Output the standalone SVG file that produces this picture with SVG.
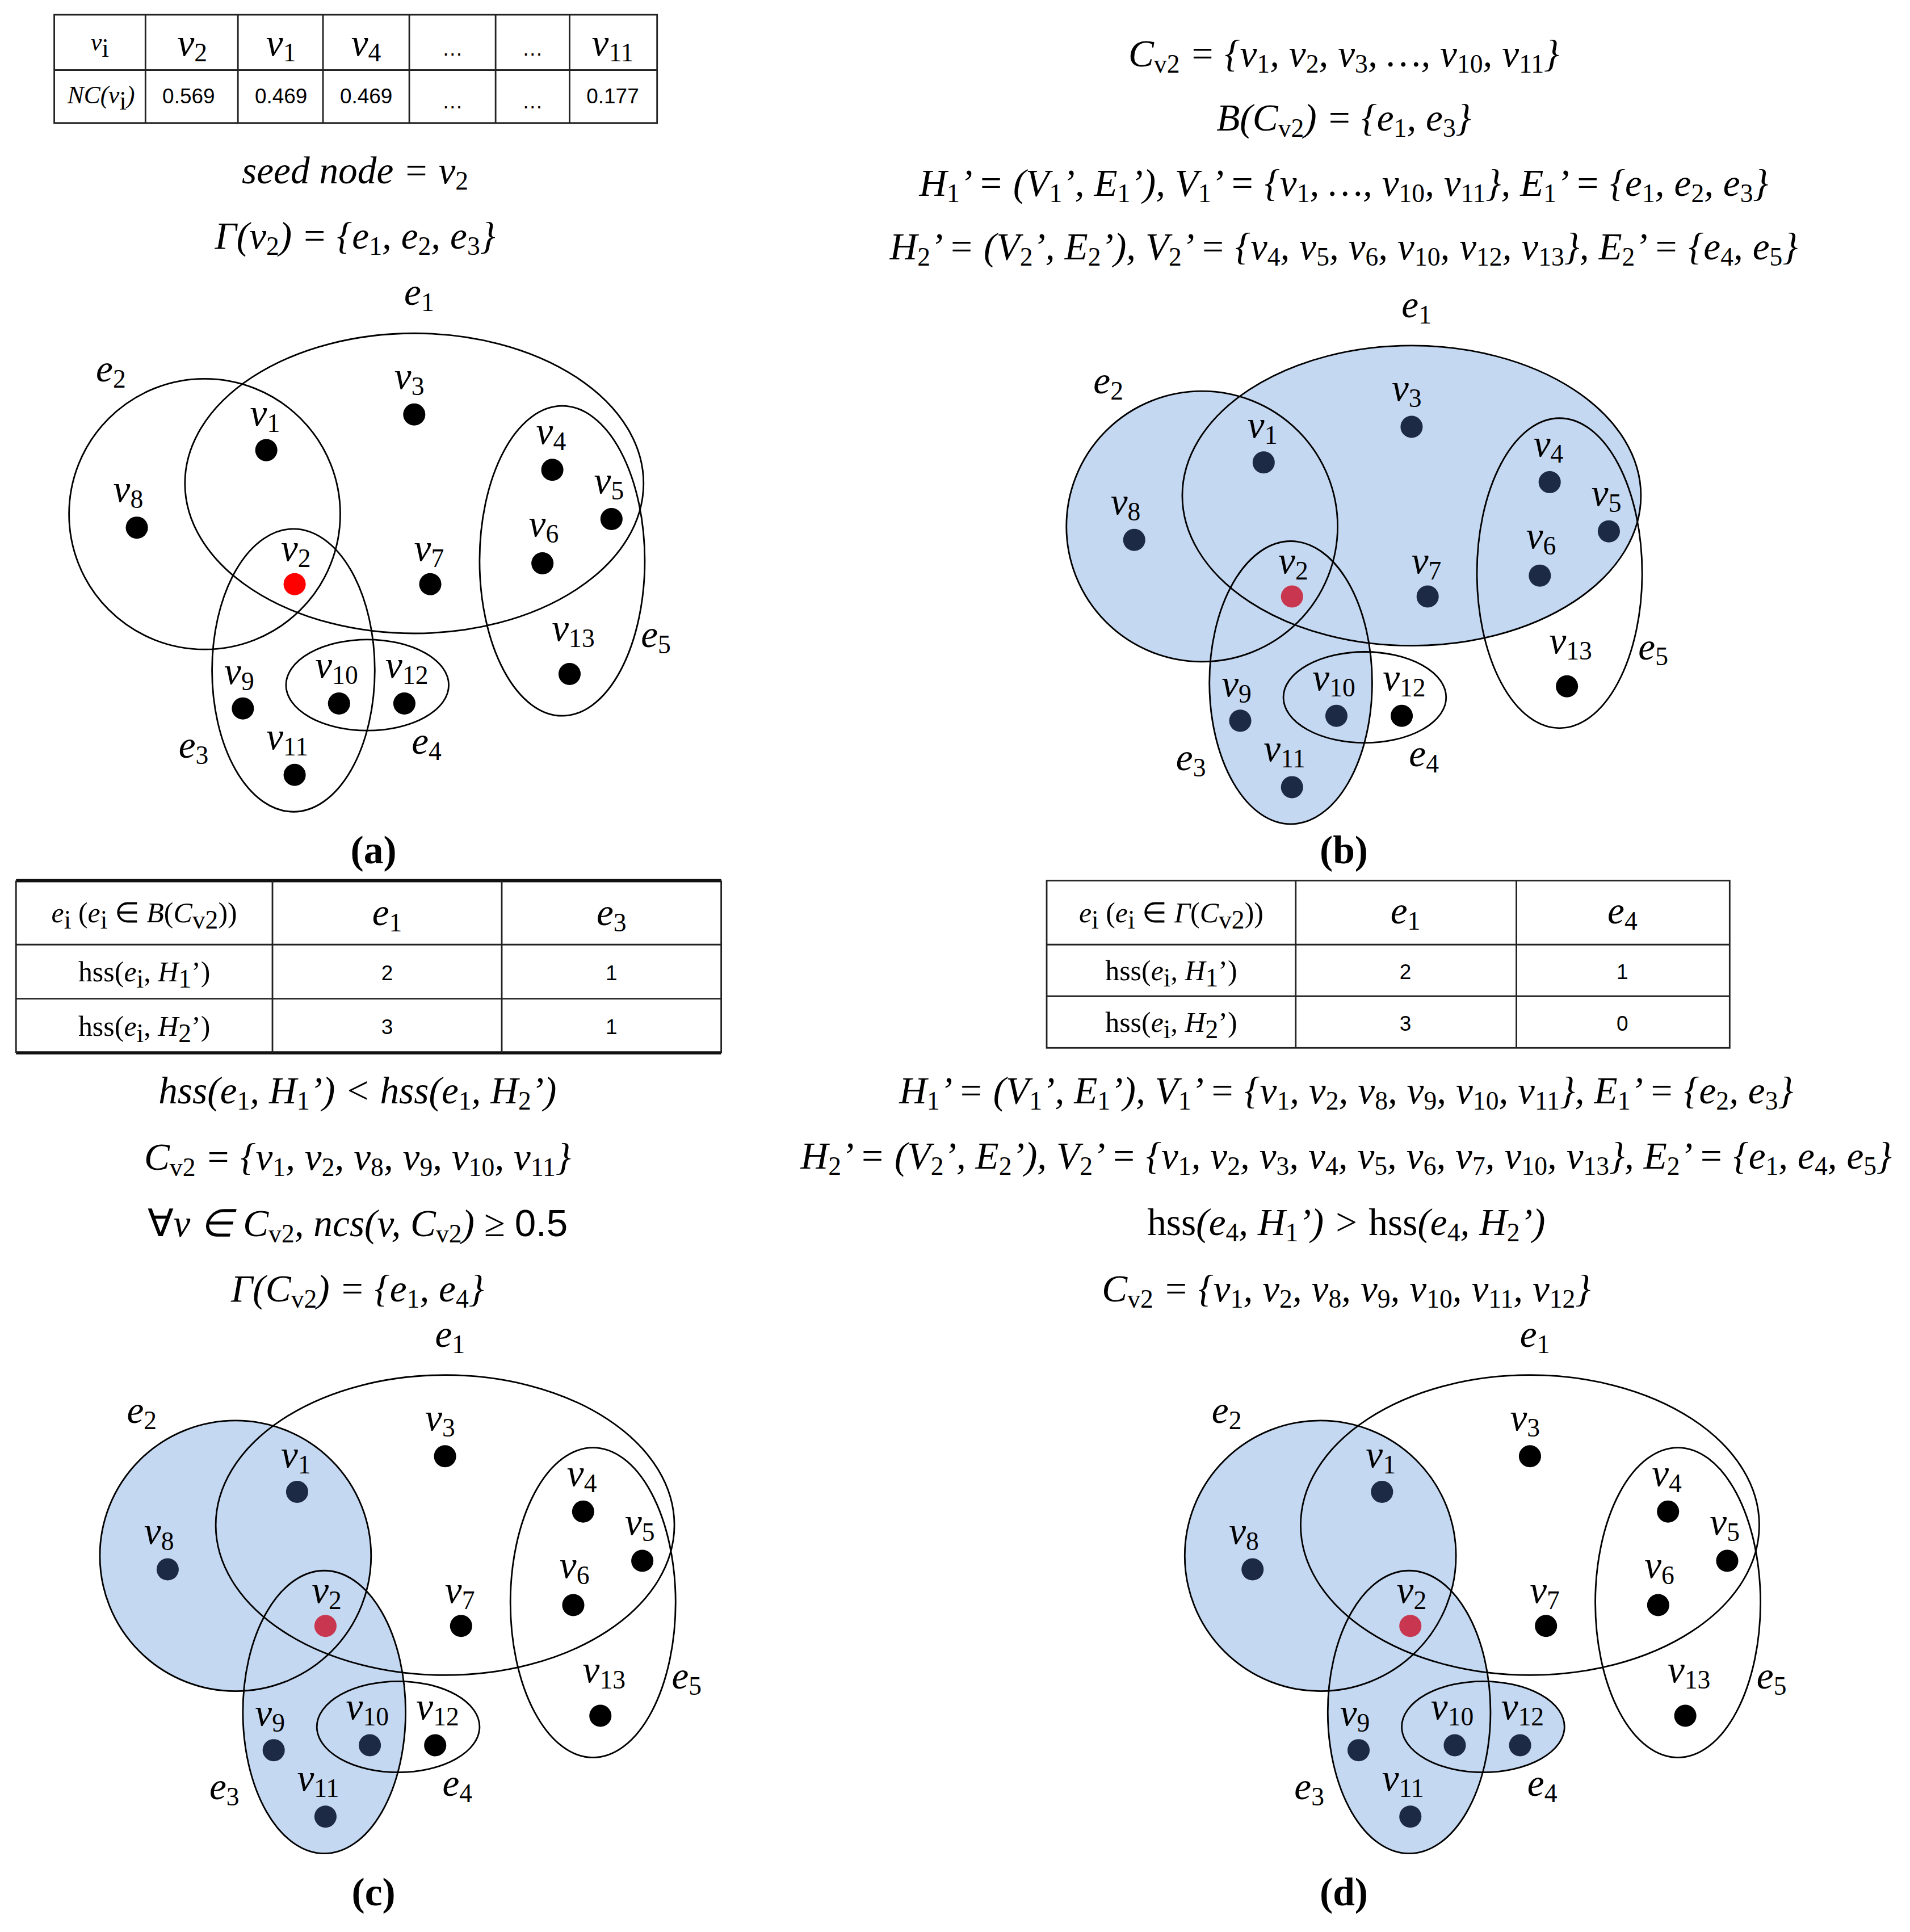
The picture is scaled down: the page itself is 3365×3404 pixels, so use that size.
<svg xmlns="http://www.w3.org/2000/svg" width="3365" height="3404" viewBox="0 0 3365 3404">
<style>
.ed{fill:none;stroke:#000;stroke-width:1.3}
.fl{fill:#c5d8f1;stroke:none}
.n{fill:#000}
.nb{fill:#1d2a45}
.r{fill:#f00}
.rb{fill:#c9364f}
.m{font-family:"Liberation Serif",serif;font-style:italic;font-size:31px;fill:#000;text-anchor:middle}
.lb{font-family:"Liberation Serif",serif;font-style:italic;font-size:31px;fill:#000;text-anchor:middle}
.s{font-size:21px;font-style:normal;baseline-shift:-5px}
.cap{font-family:"Liberation Serif",serif;font-weight:bold;font-size:32px;text-anchor:middle}
.tl{fill:none;stroke:#222;stroke-width:1.3}
.tk{fill:none;stroke:#111;stroke-width:2.6}
.sm{font-family:"Liberation Serif",serif;font-style:italic;font-size:20px;text-anchor:middle}
.num{font-family:"Liberation Sans",sans-serif;font-size:17px;text-anchor:middle}
.tt{font-family:"Liberation Serif",serif;font-size:23px;text-anchor:middle}
.up{font-style:normal}
</style>
<defs>
<g id="labels">
<text class="lb" x="215" y="346">v<tspan class="s">1</tspan></text>
<text class="lb" x="332" y="316">v<tspan class="s">3</tspan></text>
<text class="lb" x="104" y="408">v<tspan class="s">8</tspan></text>
<text class="lb" x="240" y="456">v<tspan class="s">2</tspan></text>
<text class="lb" x="348" y="456">v<tspan class="s">7</tspan></text>
<text class="lb" x="447" y="361">v<tspan class="s">4</tspan></text>
<text class="lb" x="494" y="401">v<tspan class="s">5</tspan></text>
<text class="lb" x="441" y="436">v<tspan class="s">6</tspan></text>
<text class="lb" x="465" y="521">v<tspan class="s">13</tspan></text>
<text class="lb" x="194" y="556">v<tspan class="s">9</tspan></text>
<text class="lb" x="273" y="551">v<tspan class="s">10</tspan></text>
<text class="lb" x="330" y="551">v<tspan class="s">12</tspan></text>
<text class="lb" x="233" y="609">v<tspan class="s">11</tspan></text>
<text class="lb" x="340" y="248">e<tspan class="s">1</tspan></text>
<text class="lb" x="90" y="310">e<tspan class="s">2</tspan></text>
<text class="lb" x="157" y="616">e<tspan class="s">3</tspan></text>
<text class="lb" x="346" y="613">e<tspan class="s">4</tspan></text>
<text class="lb" x="532" y="526">e<tspan class="s">5</tspan></text>
</g>
<g id="outlines">
<ellipse class="ed" cx="336" cy="393" rx="186" ry="122"/>
<circle class="ed" cx="166" cy="418" r="110"/>
<ellipse class="ed" cx="238" cy="545" rx="66" ry="115"/>
<ellipse class="ed" cx="298" cy="557" rx="66" ry="37"/>
<ellipse class="ed" cx="456" cy="456" rx="67" ry="126"/>
</g>
</defs>
<rect width="3365" height="3404" fill="#fff"/>
<g transform="scale(2.172,2.167)">
<g id="connectors"></g>

<!-- Panel a -->
<g id="table-a">
<rect class="tl" x="44" y="12" width="489" height="88"/>
<line class="tl" x1="44" y1="57" x2="533" y2="57"/>
<line class="tl" x1="118" y1="12" x2="118" y2="100"/>
<line class="tl" x1="193" y1="12" x2="193" y2="100"/>
<line class="tl" x1="262" y1="12" x2="262" y2="100"/>
<line class="tl" x1="332" y1="12" x2="332" y2="100"/>
<line class="tl" x1="402" y1="12" x2="402" y2="100"/>
<line class="tl" x1="462" y1="12" x2="462" y2="100"/>
<text class="sm" x="81" y="41">v<tspan class="s" font-size="13">i</tspan></text>
<text class="lb" x="156" y="45">v<tspan class="s">2</tspan></text>
<text class="lb" x="228" y="45">v<tspan class="s">1</tspan></text>
<text class="lb" x="297" y="45">v<tspan class="s">4</tspan></text>
<text class="num" x="367" y="45">…</text>
<text class="num" x="432" y="45">…</text>
<text class="lb" x="497" y="45">v<tspan class="s">11</tspan></text>
<text class="sm" x="82" y="84">NC(v<tspan class="s" font-size="13">i</tspan>)</text>
<text class="num" x="153" y="84">0.569</text>
<text class="num" x="228" y="84">0.469</text>
<text class="num" x="297" y="84">0.469</text>
<text class="num" x="367" y="88">…</text>
<text class="num" x="432" y="88">…</text>
<text class="num" x="497" y="84">0.177</text>
</g>
<text class="m" x="288" y="149">seed node = v<tspan class="s">2</tspan></text>
<text class="m" x="288" y="202">Γ(v<tspan class="s">2</tspan>) = {e<tspan class="s">1</tspan>, e<tspan class="s">2</tspan>, e<tspan class="s">3</tspan>}</text>
<g id="graph-a">
<use href="#outlines"/>
<g id="a-nodes">
<circle class="n" cx="216" cy="366" r="9"/><circle class="n" cx="336" cy="337" r="9"/>
<circle class="n" cx="111" cy="429" r="9"/><circle class="r" cx="239" cy="475" r="9"/>
<circle class="n" cx="349" cy="475" r="9"/><circle class="n" cx="448" cy="382" r="9"/>
<circle class="n" cx="496" cy="422" r="9"/><circle class="n" cx="440" cy="458" r="9"/>
<circle class="n" cx="462" cy="548" r="9"/><circle class="n" cx="197" cy="576" r="9"/>
<circle class="n" cx="275" cy="572" r="9"/><circle class="n" cx="328" cy="572" r="9"/>
<circle class="n" cx="239" cy="630" r="9"/>
</g>
<use href="#labels"/>
</g>
<text class="cap" x="303" y="702">(a)</text>

<!-- Panel b -->
<text class="m" x="1090" y="54">C<tspan class="s">v2</tspan> = {v<tspan class="s">1</tspan>, v<tspan class="s">2</tspan>, v<tspan class="s">3</tspan>, …, v<tspan class="s">10</tspan>, v<tspan class="s">11</tspan>}</text>
<text class="m" x="1090" y="106">B(C<tspan class="s">v2</tspan>) = {e<tspan class="s">1</tspan>, e<tspan class="s">3</tspan>}</text>
<text class="m" x="1090" y="159">H<tspan class="s">1</tspan>’ = (V<tspan class="s">1</tspan>’, E<tspan class="s">1</tspan>’),  V<tspan class="s">1</tspan>’ = {v<tspan class="s">1</tspan>, …, v<tspan class="s">10</tspan>, v<tspan class="s">11</tspan>},  E<tspan class="s">1</tspan>’ = {e<tspan class="s">1</tspan>, e<tspan class="s">2</tspan>, e<tspan class="s">3</tspan>}</text>
<text class="m" x="1090" y="211">H<tspan class="s">2</tspan>’ = (V<tspan class="s">2</tspan>’, E<tspan class="s">2</tspan>’),  V<tspan class="s">2</tspan>’ = {v<tspan class="s">4</tspan>, v<tspan class="s">5</tspan>, v<tspan class="s">6</tspan>, v<tspan class="s">10</tspan>, v<tspan class="s">12</tspan>, v<tspan class="s">13</tspan>},  E<tspan class="s">2</tspan>’ = {e<tspan class="s">4</tspan>, e<tspan class="s">5</tspan>}</text>
<g id="graph-b" transform="translate(809,10)">
<ellipse class="fl" cx="336" cy="393" rx="186" ry="122"/>
<circle class="fl" cx="166" cy="418" r="110"/>
<ellipse class="fl" cx="238" cy="545" rx="66" ry="115"/>
<use href="#outlines"/>
<g id="b-nodes">
<circle class="nb" cx="216" cy="366" r="9"/><circle class="nb" cx="336" cy="337" r="9"/>
<circle class="nb" cx="111" cy="429" r="9"/><circle class="rb" cx="239" cy="475" r="9"/>
<circle class="nb" cx="349" cy="475" r="9"/><circle class="nb" cx="448" cy="382" r="9"/>
<circle class="nb" cx="496" cy="422" r="9"/><circle class="nb" cx="440" cy="458" r="9"/>
<circle class="n" cx="462" cy="548" r="9"/><circle class="nb" cx="197" cy="576" r="9"/>
<circle class="nb" cx="275" cy="572" r="9"/><circle class="n" cx="328" cy="572" r="9"/>
<circle class="nb" cx="239" cy="630" r="9"/>
</g>
<use href="#labels"/>
</g>
<text class="cap" x="1090" y="702">(b)</text>

<!-- Panel c -->
<g id="table-c">
<line class="tk" x1="13" y1="716" x2="585" y2="716"/>
<line class="tk" x1="13" y1="856" x2="585" y2="856"/>
<line class="tl" x1="13" y1="768" x2="585" y2="768"/>
<line class="tl" x1="13" y1="812" x2="585" y2="812"/>
<line class="tl" x1="13" y1="716" x2="13" y2="856"/>
<line class="tl" x1="221" y1="716" x2="221" y2="856"/>
<line class="tl" x1="407" y1="716" x2="407" y2="856"/>
<line class="tl" x1="585" y1="716" x2="585" y2="856"/>
<text class="tt" x="117" y="750"><tspan font-style="italic">e</tspan><tspan class="s" font-size="15">i</tspan>  (<tspan font-style="italic">e<tspan class="s" font-size="15">i</tspan></tspan> ∈ <tspan font-style="italic">B</tspan>(<tspan font-style="italic">C</tspan><tspan class="s" font-size="15" font-style="italic">v2</tspan>))</text>
<text class="lb" x="314" y="752">e<tspan class="s">1</tspan></text>
<text class="lb" x="496" y="752">e<tspan class="s">3</tspan></text>
<text class="tt" x="117" y="798">hss(<tspan font-style="italic">e<tspan class="s" font-size="15">i</tspan></tspan>, <tspan font-style="italic">H</tspan><tspan class="s" font-size="15">1</tspan>’)</text>
<text class="tt" x="117" y="842">hss(<tspan font-style="italic">e<tspan class="s" font-size="15">i</tspan></tspan>, <tspan font-style="italic">H</tspan><tspan class="s" font-size="15">2</tspan>’)</text>
<text class="num" x="314" y="797">2</text><text class="num" x="496" y="797">1</text>
<text class="num" x="314" y="841">3</text><text class="num" x="496" y="841">1</text>
</g>
<text class="m" x="290" y="897">hss(e<tspan class="s">1</tspan>, H<tspan class="s">1</tspan>’) &lt; hss(e<tspan class="s">1</tspan>, H<tspan class="s">2</tspan>’)</text>
<text class="m" x="290" y="951">C<tspan class="s">v2</tspan> = {v<tspan class="s">1</tspan>, v<tspan class="s">2</tspan>, v<tspan class="s">8</tspan>, v<tspan class="s">9</tspan>, v<tspan class="s">10</tspan>, v<tspan class="s">11</tspan>}</text>
<text class="m" x="290" y="1005"><tspan class="up">∀</tspan>v ∈ C<tspan class="s">v2</tspan>, ncs(v, C<tspan class="s">v2</tspan>) ≥ <tspan class="up" font-family="Liberation Sans">0.5</tspan></text>
<text class="m" x="290" y="1058">Γ(C<tspan class="s">v2</tspan>) = {e<tspan class="s">1</tspan>, e<tspan class="s">4</tspan>}</text>
<g id="graph-c" transform="translate(25,847)">
<circle class="fl" cx="166" cy="418" r="110"/>
<ellipse class="fl" cx="238" cy="545" rx="66" ry="115"/>
<use href="#outlines"/>
<g id="c-nodes">
<circle class="nb" cx="216" cy="366" r="9"/><circle class="n" cx="336" cy="337" r="9"/>
<circle class="nb" cx="111" cy="429" r="9"/><circle class="rb" cx="239" cy="475" r="9"/>
<circle class="n" cx="349" cy="475" r="9"/><circle class="n" cx="448" cy="382" r="9"/>
<circle class="n" cx="496" cy="422" r="9"/><circle class="n" cx="440" cy="458" r="9"/>
<circle class="n" cx="462" cy="548" r="9"/><circle class="nb" cx="197" cy="576" r="9"/>
<circle class="nb" cx="275" cy="572" r="9"/><circle class="n" cx="328" cy="572" r="9"/>
<circle class="nb" cx="239" cy="630" r="9"/>
</g>
<use href="#labels"/>
</g>
<text class="cap" x="303" y="1549">(c)</text>

<!-- Panel d -->
<g id="table-d">
<rect class="tl" x="849" y="716" width="554" height="136"/>
<line class="tl" x1="849" y1="768" x2="1403" y2="768"/>
<line class="tl" x1="849" y1="810" x2="1403" y2="810"/>
<line class="tl" x1="1051" y1="716" x2="1051" y2="852"/>
<line class="tl" x1="1230" y1="716" x2="1230" y2="852"/>
<text class="tt" x="950" y="750"><tspan font-style="italic">e</tspan><tspan class="s" font-size="15" font-style="italic">i</tspan>  (<tspan font-style="italic">e<tspan class="s" font-size="15">i</tspan></tspan> ∈ <tspan font-style="italic">Γ</tspan>(<tspan font-style="italic">C</tspan><tspan class="s" font-size="15" font-style="italic">v2</tspan>))</text>
<text class="lb" x="1140" y="751">e<tspan class="s">1</tspan></text>
<text class="lb" x="1316" y="751">e<tspan class="s">4</tspan></text>
<text class="tt" x="950" y="797">hss(<tspan font-style="italic">e<tspan class="s" font-size="15">i</tspan></tspan>, <tspan font-style="italic">H</tspan><tspan class="s" font-size="15">1</tspan>’)</text>
<text class="tt" x="950" y="839">hss(<tspan font-style="italic">e<tspan class="s" font-size="15">i</tspan></tspan>, <tspan font-style="italic">H</tspan><tspan class="s" font-size="15">2</tspan>’)</text>
<text class="num" x="1140" y="796">2</text><text class="num" x="1316" y="796">1</text>
<text class="num" x="1140" y="838">3</text><text class="num" x="1316" y="838">0</text>
</g>
<text class="m" x="1092" y="897">H<tspan class="s">1</tspan>’ = (V<tspan class="s">1</tspan>’, E<tspan class="s">1</tspan>’), V<tspan class="s">1</tspan>’ = {v<tspan class="s">1</tspan>, v<tspan class="s">2</tspan>, v<tspan class="s">8</tspan>, v<tspan class="s">9</tspan>, v<tspan class="s">10</tspan>, v<tspan class="s">11</tspan>}, E<tspan class="s">1</tspan>’ = {e<tspan class="s">2</tspan>, e<tspan class="s">3</tspan>}</text>
<text class="m" x="1092" y="950">H<tspan class="s">2</tspan>’ = (V<tspan class="s">2</tspan>’, E<tspan class="s">2</tspan>’), V<tspan class="s">2</tspan>’ = {v<tspan class="s">1</tspan>, v<tspan class="s">2</tspan>, v<tspan class="s">3</tspan>, v<tspan class="s">4</tspan>, v<tspan class="s">5</tspan>, v<tspan class="s">6</tspan>, v<tspan class="s">7</tspan>, v<tspan class="s">10</tspan>, v<tspan class="s">13</tspan>}, E<tspan class="s">2</tspan>’ = {e<tspan class="s">1</tspan>, e<tspan class="s">4</tspan>, e<tspan class="s">5</tspan>}</text>
<text class="m" x="1092" y="1004"><tspan class="up">hss</tspan>(e<tspan class="s">4</tspan>, H<tspan class="s">1</tspan>’) &gt; <tspan class="up">hss</tspan>(e<tspan class="s">4</tspan>, H<tspan class="s">2</tspan>’)</text>
<text class="m" x="1092" y="1058">C<tspan class="s">v2</tspan> = {v<tspan class="s">1</tspan>, v<tspan class="s">2</tspan>, v<tspan class="s">8</tspan>, v<tspan class="s">9</tspan>, v<tspan class="s">10</tspan>, v<tspan class="s">11</tspan>, v<tspan class="s">12</tspan>}</text>
<g id="graph-d" transform="translate(905,847)">
<circle class="fl" cx="166" cy="418" r="110"/>
<ellipse class="fl" cx="238" cy="545" rx="66" ry="115"/>
<ellipse class="fl" cx="298" cy="557" rx="66" ry="37"/>
<use href="#outlines"/>
<g id="d-nodes">
<circle class="nb" cx="216" cy="366" r="9"/><circle class="n" cx="336" cy="337" r="9"/>
<circle class="nb" cx="111" cy="429" r="9"/><circle class="rb" cx="239" cy="475" r="9"/>
<circle class="n" cx="349" cy="475" r="9"/><circle class="n" cx="448" cy="382" r="9"/>
<circle class="n" cx="496" cy="422" r="9"/><circle class="n" cx="440" cy="458" r="9"/>
<circle class="n" cx="462" cy="548" r="9"/><circle class="nb" cx="197" cy="576" r="9"/>
<circle class="nb" cx="275" cy="572" r="9"/><circle class="nb" cx="328" cy="572" r="9"/>
<circle class="nb" cx="239" cy="630" r="9"/>
</g>
<use href="#labels"/>
</g>
<text class="cap" x="1090" y="1549">(d)</text>
</g>
</svg>
